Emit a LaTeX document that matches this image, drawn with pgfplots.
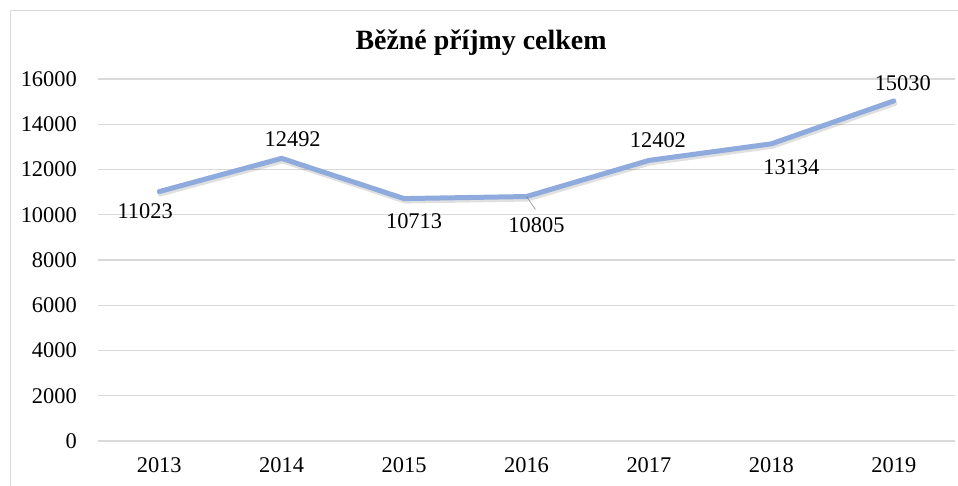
\documentclass[border=0pt]{standalone}
\usepackage{pgfplots}
\pgfplotsset{compat=1.18}
\usepackage{fontspec}
\setmainfont{Liberation Serif}
\definecolor{lineblue}{HTML}{8FAADC}
\definecolor{gridgray}{HTML}{D9D9D9}
\begin{document}
\begin{tikzpicture}[x=1bp,y=1bp]
\useasboundingbox (0,0) rectangle (958,486);
\begin{scope}
\clip (0,0) rectangle (958,486);
\draw[color=gridgray, line width=1bp] (10.5,-10) -- (10.5,475.5) -- (970,475.5);
\end{scope}
\node[font=\fontsize{28}{32}\selectfont\bfseries] at (481,443) {Běžné příjmy celkem};
\begin{axis}[
  at={(98bp,45bp)}, anchor=south west,
  scale only axis, width=857bp, height=362bp,
  xmin=-0.5, xmax=6.5, ymin=0, ymax=16000,
  ytick={0,2000,...,16000},
  scaled y ticks=false,
  xtick={0,1,2,3,4,5,6},
  xticklabels={2013,2014,2015,2016,2017,2018,2019},
  axis line style={draw=none},
  tick style={draw=none},
  ymajorgrids,
  grid style={color=gridgray, line width=1.2bp},
  /pgf/number format/assume math mode=true,
  /pgf/number format/1000 sep={},
  ticklabel style={font=\fontsize{22.5}{26}\selectfont},
  yticklabel style={inner sep=0pt, anchor=east, xshift=-21bp},
  xticklabel style={inner sep=0pt, anchor=north, yshift=-16bp},
  clip=false,
]
\addplot[black, opacity=0.12, line width=5bp, line join=round, line cap=round, yshift=-2.5bp, xshift=1bp, forget plot]
  coordinates {(0,11023) (1,12492) (2,10713) (3,10805) (4,12402) (5,13134) (6,15030)};
\addplot[lineblue, line width=5bp, line join=round, line cap=round]
  coordinates {(0,11023) (1,12492) (2,10713) (3,10805) (4,12402) (5,13134) (6,15030)};
\draw[gray, line width=0.5bp] (axis cs:3,10805) -- ++(9bp,-13bp);
\begin{scope}[every node/.style={font=\fontsize{22.5}{26}\selectfont}]
\node[xshift=-14bp, yshift=-20bp] at (axis cs:0,11023) {11023};
\node[xshift=11bp, yshift=19bp] at (axis cs:1,12492) {12492};
\node[xshift=10bp, yshift=-23bp] at (axis cs:2,10713) {10713};
\node[xshift=10bp, yshift=-29bp] at (axis cs:3,10805) {10805};
\node[xshift=9bp, yshift=20bp] at (axis cs:4,12402) {12402};
\node[xshift=20bp, yshift=-23bp] at (axis cs:5,13134) {13134};
\node[xshift=9bp, yshift=18bp] at (axis cs:6,15030) {15030};
\end{scope}
\end{axis}
\end{tikzpicture}
\end{document}
